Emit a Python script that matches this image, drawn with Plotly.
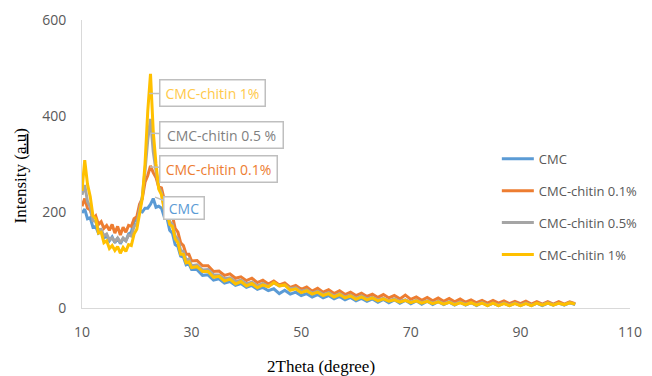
import plotly.graph_objects as go

# 2Theta sampling grid (degrees)
theta = [10 + 0.5 * i for i in range(41)] + list(range(31, 101))

series_names = ["CMC", "CMC-chitin 0.1%", "CMC-chitin 0.5%", "CMC-chitin 1%"]
series_colors = ["#5B9BD5", "#ED7D31", "#A5A5A5", "#FFC000"]

cmc = [
    198, 206, 186, 188, 168, 170, 156, 160, 146, 150,
    140, 148, 136, 146, 134, 144, 140, 154, 158, 180,
    184, 202, 200, 208, 208, 216, 228, 210, 212, 208,
    190, 188, 162, 156, 132, 128, 108, 106, 90, 92,
    80,
    80, 68, 69, 58, 61, 52, 55, 47, 51, 43,
    47, 39, 43, 36, 40, 30, 37, 29, 33, 26,
    30, 23, 28, 21, 26, 19, 24, 17, 22, 15,
    20, 14, 19, 12, 18, 11, 17, 10, 16, 9,
    15, 8, 14, 7, 13, 7, 12, 6, 12, 6,
    11, 5, 11, 5, 10, 5, 10, 5, 10, 5,
    10, 5, 10, 5, 10, 6, 11, 6, 11, 7,
]

chitin_01 = [
    212, 228, 208, 204, 186, 192, 174, 180, 166, 172,
    162, 174, 156, 170, 152, 168, 158, 172, 170, 186,
    190, 216, 228, 262, 276, 296, 282, 272, 252, 250,
    226, 220, 198, 192, 166, 158, 136, 130, 112, 112,
    98,
    99, 88, 88, 76, 77, 68, 71, 62, 65, 57,
    62, 53, 58, 50, 56, 48, 52, 43, 47, 39,
    44, 35, 41, 33, 38, 30, 36, 28, 33, 26,
    31, 24, 29, 22, 28, 21, 26, 19, 27, 18,
    23, 16, 22, 15, 21, 14, 20, 13, 19, 12,
    17, 11, 16, 10, 16, 10, 15, 9, 14, 9,
    14, 8, 13, 8, 13, 8, 13, 8, 13, 9,
]

chitin_05 = [
    236, 256, 222, 210, 182, 180, 162, 164, 150, 154,
    142, 146, 138, 146, 136, 146, 140, 152, 150, 170,
    176, 204, 232, 286, 350, 394, 326, 286, 252, 240,
    208, 204, 180, 174, 150, 144, 120, 118, 100, 102,
    88,
    90, 79, 80, 69, 69, 61, 63, 55, 58, 50,
    54, 46, 51, 45, 52, 46, 48, 40, 42, 35,
    38, 31, 35, 28, 32, 25, 30, 23, 27, 20,
    25, 19, 22, 17, 20, 15, 19, 14, 17, 12,
    16, 11, 15, 10, 14, 9, 13, 8, 12, 8,
    11, 7, 11, 6, 10, 6, 10, 6, 10, 6,
    10, 6, 10, 7, 11, 7, 10, 7, 11, 8,
]

chitin_1 = [
    244, 308, 258, 232, 192, 186, 156, 158, 136, 140,
    124, 130, 120, 128, 114, 126, 118, 132, 130, 154,
    164, 200, 228, 300, 410, 488, 368, 300, 248, 236,
    206, 200, 174, 170, 144, 136, 112, 112, 94, 96,
    84,
    86, 76, 76, 64, 66, 56, 60, 50, 55, 46,
    51, 42, 48, 44, 53, 46, 48, 37, 40, 32,
    36, 29, 33, 26, 30, 23, 28, 21, 25, 18,
    23, 17, 21, 15, 19, 14, 17, 12, 16, 11,
    15, 10, 14, 9, 13, 8, 12, 7, 11, 7,
    11, 6, 10, 5, 10, 5, 9, 5, 9, 5,
    9, 5, 10, 6, 10, 6, 10, 7, 11, 8,
]

x_ticks = [10, 30, 50, 70, 90, 110]
y_ticks = [0, 200, 400, 600]

all_series = [cmc, chitin_01, chitin_05, chitin_1]

fig = go.Figure()
for name, color, vals in zip(series_names, series_colors, all_series):
    fig.add_trace(go.Scatter(
        x=theta, y=vals, mode="lines", name=name,
        legendgroup=name,
        line=dict(color=color, width=3),
    ))

tick_font = dict(family="Open Sans", size=14, color="#595959")

# The page body adds an 8px margin, so the figure is 8px smaller.
fig.update_layout(
    width=644, height=368,
    margin=dict(l=74, r=22, t=12, b=68, autoexpand=False),
    paper_bgcolor="white", plot_bgcolor="white",
    showlegend=True,
    legend=dict(
        x=0.757, xanchor="left", y=0.57, yanchor="top",
        font=dict(family="Open Sans", size=13, color="#595959"),
        tracegroupgap=12, traceorder="grouped", itemwidth=32,
        bgcolor="rgba(0,0,0,0)",
    ),
    xaxis=dict(
        range=[10, 110], tickvals=x_ticks, showgrid=False, zeroline=False,
        showline=True, linecolor="#D9D9D9", linewidth=1,
        ticks="", tickfont=tick_font, ticklabelstandoff=11,
    ),
    yaxis=dict(
        range=[0, 600], tickvals=y_ticks, showgrid=False, zeroline=False,
        showline=True, linecolor="#D9D9D9", linewidth=1,
        ticks="", tickfont=tick_font, ticklabelstandoff=12,
    ),
)

# axis titles
fig.add_annotation(
    text="2Theta (degree)", xref="paper", yref="paper",
    x=0.436, y=-0.203, xanchor="center", yanchor="middle", showarrow=False,
    font=dict(family="Liberation Serif", size=17, color="black"),
)
fig.add_annotation(
    text="Intensity (<u>a.u</u>)", xref="paper", yref="paper",
    x=-0.113, y=0.457, xanchor="center", yanchor="middle",
    textangle=-90, showarrow=False,
    font=dict(family="Liberation Serif", size=17, color="black"),
)

# data callouts
callouts = [
    ("CMC-chitin 1%", 22.24, 447, 63, 0, "#FFC94A", 100, 21),
    ("CMC-chitin 0.5 %", 22.42, 364, 71, 2, "#7F7F7F", 118, 21),
    ("CMC-chitin 0.1%", 22.42, 294, 68, 2, "#ED7D31", 112, 21),
    ("CMC", 23.33, 231, 29, 11, "#5B9BD5", 35, 17),
]
for text, xv, yv, ax, ay, col, w, h in callouts:
    fig.add_annotation(
        text=text, x=xv, y=yv, xref="x", yref="y",
        ax=ax, ay=ay, showarrow=True, arrowhead=0, arrowwidth=1.5,
        arrowcolor="#BFBFBF", standoff=0,
        width=w, height=h, borderpad=2,
        bordercolor="#BFBFBF", borderwidth=1.5, bgcolor="white",
        font=dict(family="Open Sans", size=14, color=col),
    )

fig.write_html("out.html")
